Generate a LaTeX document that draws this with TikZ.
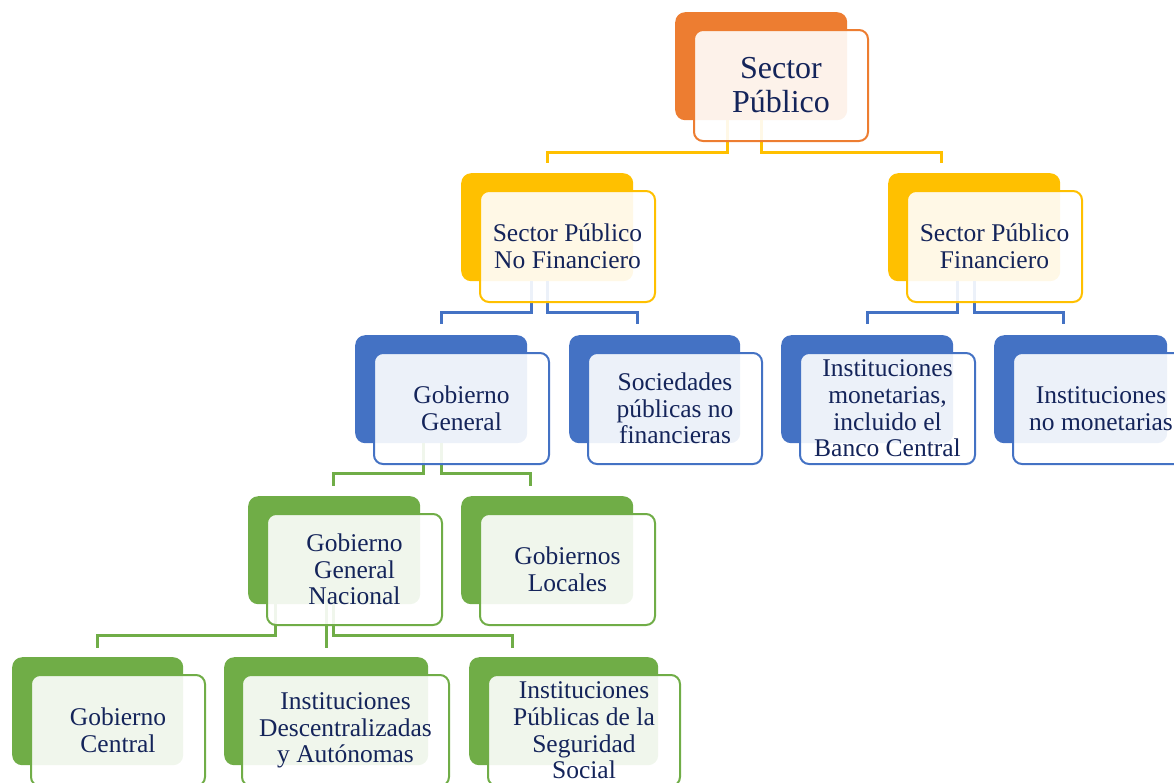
\documentclass[tikz,border=0pt]{standalone}
\usepackage{fontspec}
\setmainfont{Liberation Serif}
\definecolor{corange}{HTML}{ED7D31}
\definecolor{cgold}{HTML}{FFC000}
\definecolor{cblue}{HTML}{4472C4}
\definecolor{cgreen}{HTML}{70AD47}
\definecolor{txt}{HTML}{14245A}
\tikzset{
  backbox/.style={draw=none, fill=#1, rounded corners=10pt, minimum height=108pt, inner sep=0pt, anchor=north west},
  frontbox/.style={draw=#1, line width=2pt, fill=white, fill opacity=0.9, text opacity=1, rounded corners=9pt, minimum height=111pt, inner sep=0pt, anchor=north west, align=center, text=txt, font=\fontsize{25.5}{26.7}\selectfont},
  conn/.style={draw=#1, line width=2.6pt},
}
\begin{document}
\begin{tikzpicture}[x=1pt,y=-1pt]
\useasboundingbox (0,0) rectangle (1174,782);
\clip (0,0) rectangle (1174,782);
% back boxes
\node[backbox=corange, minimum width=172pt] (top-b) at (675,12) {};
\node[backbox=cgold, minimum width=172pt] (spnf-b) at (461,173) {};
\node[backbox=cgold, minimum width=172pt] (spf-b) at (888,173) {};
\node[backbox=cblue, minimum width=172pt] (gg-b) at (355,335) {};
\node[backbox=cblue, minimum width=171pt] (spnfs-b) at (569,335) {};
\node[backbox=cblue, minimum width=172pt] (im-b) at (781,335) {};
\node[backbox=cblue, minimum width=173pt] (inm-b) at (994,335) {};
\node[backbox=cgreen, minimum width=172pt] (ggn-b) at (248,496) {};
\node[backbox=cgreen, minimum width=172pt] (gl-b) at (461,496) {};
\node[backbox=cgreen, minimum width=171pt] (gc-b) at (12,657) {};
\node[backbox=cgreen, minimum width=204pt] (ida-b) at (224,657) {};
\node[backbox=cgreen, minimum width=189pt] (ipss-b) at (469,657) {};
% connectors
\draw[conn=cgold] ([xshift=-34pt]top-b.south) -- ++(0,32) -| ([yshift=10pt]spnf-b.north);
\draw[conn=cgold] (top-b.south) -- ++(0,32) -| ([xshift=-33pt,yshift=10pt]spf-b.north);
\draw[conn=cblue] ([xshift=-16pt]spnf-b.south) -- ++(0,31) -| ([yshift=11pt]gg-b.north);
\draw[conn=cblue] (spnf-b.south) -- ++(0,31) -| ([xshift=-17.5pt,yshift=11pt]spnfs-b.north);
\draw[conn=cblue] ([xshift=-17pt]spf-b.south) -- ++(0,31) -| ([yshift=11pt]im-b.north);
\draw[conn=cblue] (spf-b.south) -- ++(0,31) -| ([xshift=-17.5pt,yshift=11pt]inm-b.north);
\draw[conn=cgreen] ([xshift=-18pt]gg-b.south) -- ++(0,30) -| ([xshift=-1pt,yshift=10pt]ggn-b.north);
\draw[conn=cgreen] (gg-b.south) -- ++(0,30) -| ([xshift=-17pt,yshift=10pt]gl-b.north);
\draw[conn=cgreen] ([xshift=-59pt]ggn-b.south) -- ++(0,31) -| ([yshift=9pt]gc-b.north);
\draw[conn=cgreen] ([xshift=-8pt]ggn-b.south) -- ([yshift=9pt]ida-b.north);
\draw[conn=cgreen] ([xshift=-1pt]ggn-b.south) -- ++(0,31) -| ([xshift=-51.5pt,yshift=9pt]ipss-b.north);
% front boxes
\node[frontbox=corange, minimum width=174pt, font=\fontsize{32}{34}\selectfont] (top) at (693,29) {Sector\\Público};
\node[frontbox=cgold, minimum width=175pt] (spnf) at (479,190) {Sector Público\\No Financiero};
\node[frontbox=cgold, minimum width=175pt] (spf) at (906,190) {Sector Público\\Financiero};
\node[frontbox=cblue, minimum width=175pt] (gg) at (373,352) {Gobierno\\General};
\node[frontbox=cblue, minimum width=174pt] (spnfs) at (587,352) {Sociedades\\públicas no\\financieras};
\node[frontbox=cblue, minimum width=175pt] (im) at (799,352) {Instituciones\\monetarias,\\incluido el\\Banco Central};
\node[frontbox=cblue, minimum width=176pt] (inm) at (1012,352) {Instituciones\\no monetarias};
\node[frontbox=cgreen, minimum width=175pt] (ggn) at (266,513) {Gobierno\\General\\Nacional};
\node[frontbox=cgreen, minimum width=175pt] (gl) at (479,513) {Gobiernos\\Locales};
\node[frontbox=cgreen, minimum width=174pt] (gc) at (30,674) {Gobierno\\Central};
\node[frontbox=cgreen, minimum width=207pt] (ida) at (241,674) {Instituciones\\Descentralizadas\\y Autónomas};
\node[frontbox=cgreen, minimum width=192pt] (ipss) at (487,674) {Instituciones\\Públicas de la\\Seguridad\\Social};
\end{tikzpicture}
\end{document}
